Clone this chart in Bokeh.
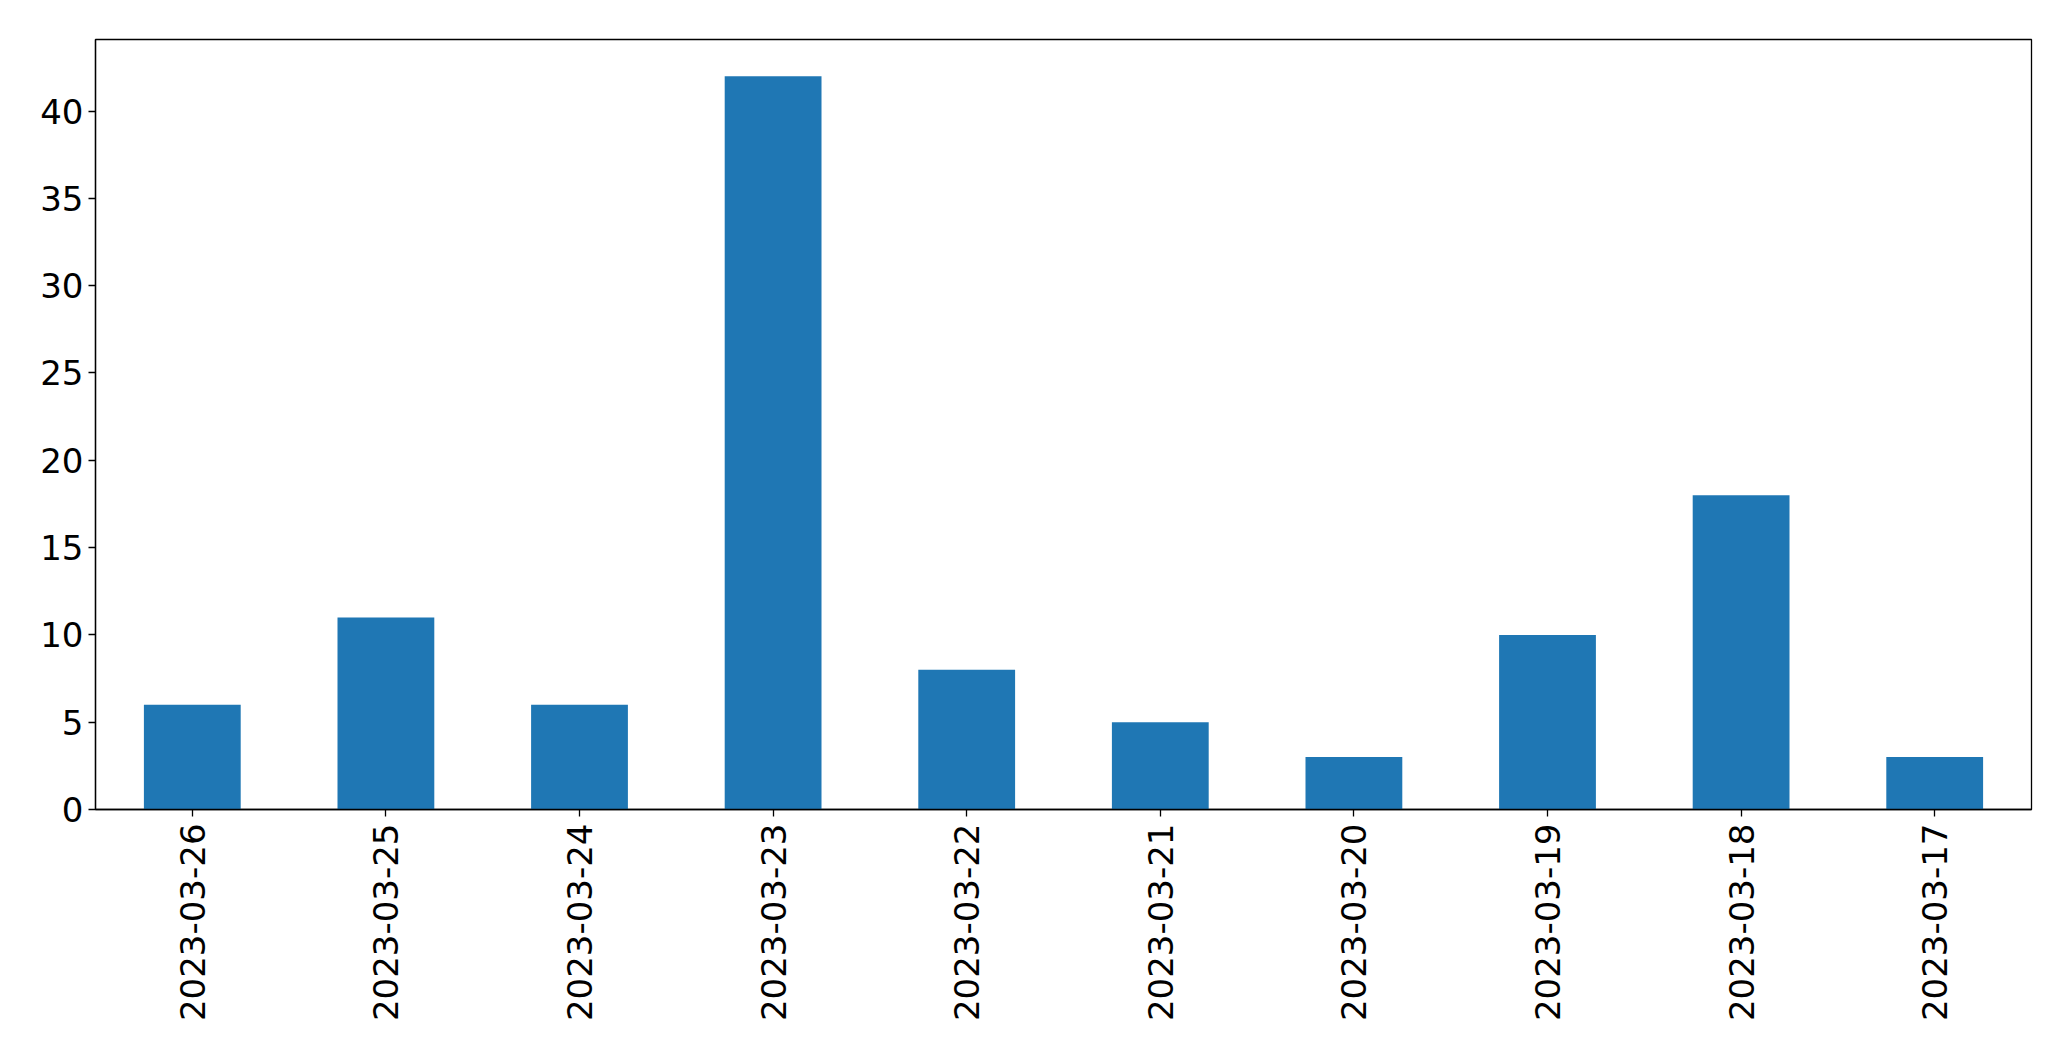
import math
from bokeh.plotting import figure
from bokeh.models import FixedTicker, Range1d
from bokeh.embed import file_html
from bokeh.resources import INLINE

dates = ["2023-03-26", "2023-03-25", "2023-03-24", "2023-03-23", "2023-03-22",
         "2023-03-21", "2023-03-20", "2023-03-19", "2023-03-18", "2023-03-17"]
counts = [6, 11, 6, 42, 8, 5, 3, 10, 18, 3]
y_ticks = [0, 5, 10, 15, 20, 25, 30, 35, 40]

p = figure(x_range=dates, y_range=Range1d(0, max(counts) * 1.05),
           frame_width=1936, frame_height=770,
           min_border_left=95, min_border_right=17, min_border_top=39, min_border_bottom=230,
           output_backend="svg", toolbar_location=None, background_fill_color="white",
           border_fill_color="white")

p.vbar(x=dates, top=counts, width=0.5, fill_color="#1f77b4", line_color=None)

p.xgrid.visible = False
p.ygrid.visible = False
p.x_range.range_padding = 0
p.outline_line_color = "black"
p.outline_line_width = 1.3
p.outline_line_alpha = 1

for ax in (p.xaxis[0], p.yaxis[0]):
    ax.axis_line_color = "black"
    ax.axis_line_width = 1.3
    ax.major_tick_line_color = "black"
    ax.major_tick_line_width = 1.3
    ax.major_tick_in = 0
    ax.major_tick_out = 7
    ax.minor_tick_line_color = None
    ax.major_label_text_font = "DejaVu Sans"
    ax.major_label_text_color = "black"
    ax.major_label_text_font_size = "34px"

p.yaxis[0].ticker = FixedTicker(ticks=y_ticks)
p.yaxis[0].major_label_standoff = 5
p.xaxis[0].major_label_orientation = math.pi / 2
p.xaxis[0].major_label_standoff = 7

open("out.html", "w").write(file_html(p, INLINE))
